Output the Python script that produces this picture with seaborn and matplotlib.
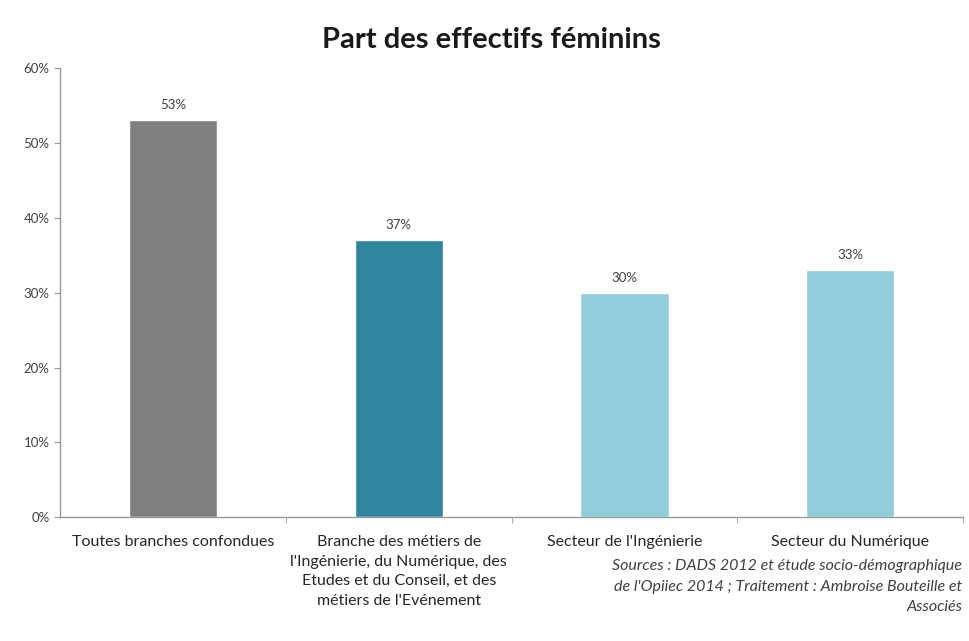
import matplotlib
matplotlib.use("Agg")
import matplotlib.pyplot as plt
import seaborn as sns
import pandas as pd
from matplotlib.ticker import FixedLocator

# -------------------------------
# Data
# -------------------------------

categories = [
    "Toutes branches confondues",
    "Branche des métiers de\nl'Ingénierie, du Numérique, des\nEtudes et du Conseil, et des\nmétiers de l'Evénement",
    "Secteur de l'Ingénierie",
    "Secteur du Numérique",
]
values = [53, 37, 30, 33]
value_labels = ["53%", "37%", "30%", "33%"]
bar_colors = ["#7f7f7f", "#31859c", "#92cddc", "#92cddc"]
y_ticks = [0, 10, 20, 30, 40, 50, 60]

df = pd.DataFrame({"categorie": categories, "part": values})

# -------------------------------
# Plot
# -------------------------------

sns.set_style("white")
plt.rcParams["font.family"] = ["Lato", "DejaVu Sans"]

fig = plt.figure(figsize=(9.69, 6.41), dpi=100)
ax = fig.add_axes([0.062, 0.193, 0.932, 0.701])

sns.barplot(data=df, x="categorie", y="part", hue="categorie",
            palette=bar_colors, width=0.39, legend=False, ax=ax,
            saturation=1)

for i, v in enumerate(values):
    ax.text(i, v + 1.2, value_labels[i], ha="center", va="bottom",
            fontsize=9.5, color="#404040")

ax.set_xlim(-0.5, 3.5)
ax.set_ylim(0, 60)
ax.set_yticks(y_ticks)
ax.set_yticklabels([f"{t}%" for t in y_ticks], fontsize=9.5, color="#404040")
ax.set_xticks(range(len(categories)))
ax.set_xticklabels(categories, fontsize=11.5, color="#262626", linespacing=1.5)
ax.tick_params(axis="x", which="major", length=0, pad=13)
ax.xaxis.set_minor_locator(FixedLocator([0.5, 1.5, 2.5, 3.5]))
ax.tick_params(axis="x", which="minor", length=4, color="#9a9a9a",
               direction="out", bottom=True)
ax.tick_params(axis="y", length=4, color="#9a9a9a", direction="out", left=True)
ax.set_xlabel("")
ax.set_ylabel("")

for s in ["top", "right"]:
    ax.spines[s].set_visible(False)
for s in ["left", "bottom"]:
    ax.spines[s].set_color("#9a9a9a")
    ax.spines[s].set_linewidth(1)

fig.text(0.507, 0.937, "Part des effectifs féminins", ha="center", va="center",
         fontsize=21, fontweight="bold", color="#1a1a1a")

fig.text(0.993, 0.085, "Sources : DADS 2012 et étude socio-démographique\n"
         "de l'Opiiec 2014 ; Traitement : Ambroise Bouteille et\nAssociés",
         ha="right", va="center", fontsize=11.5, style="italic",
         color="#404040", linespacing=1.55)

fig.savefig("out.png", dpi=100)
